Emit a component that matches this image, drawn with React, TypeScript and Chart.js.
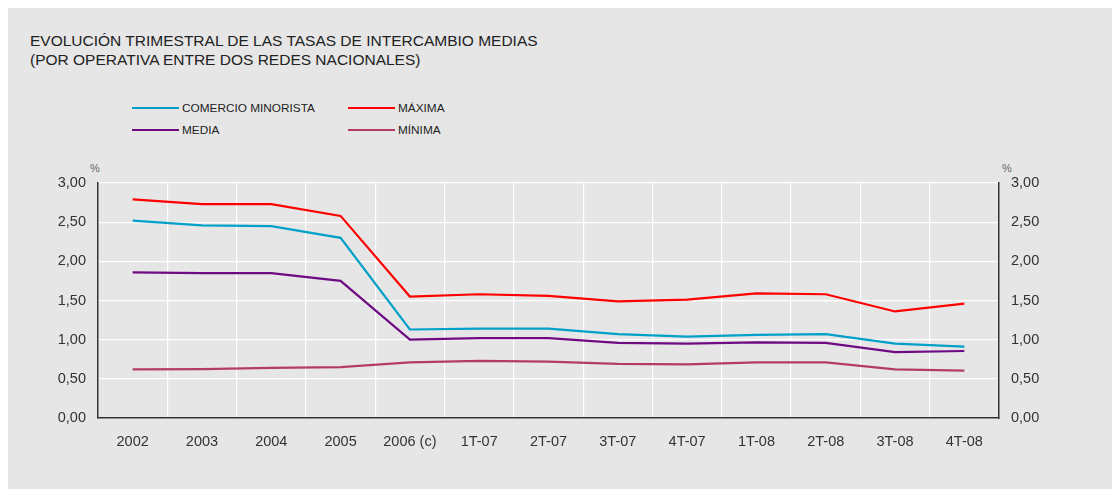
import React, { useEffect, useRef } from "react";
import { Chart, registerables } from "chart.js";

Chart.register(...registerables);

const categories = ["2002", "2003", "2004", "2005", "2006 (c)", "1T-07", "2T-07", "3T-07", "4T-07", "1T-08", "2T-08", "3T-08", "4T-08"];
const comercioMinorista = [2.52, 2.46, 2.45, 2.30, 1.13, 1.14, 1.14, 1.07, 1.04, 1.06, 1.07, 0.95, 0.91];
const maxima = [2.79, 2.73, 2.73, 2.58, 1.55, 1.58, 1.56, 1.49, 1.51, 1.59, 1.58, 1.36, 1.46];
const media = [1.86, 1.85, 1.85, 1.75, 1.00, 1.02, 1.02, 0.96, 0.95, 0.965, 0.96, 0.84, 0.855];
const minima = [0.62, 0.625, 0.64, 0.65, 0.71, 0.73, 0.72, 0.69, 0.685, 0.71, 0.71, 0.62, 0.605];

const seriesNames = ["COMERCIO MINORISTA", "MÁXIMA", "MEDIA", "MÍNIMA"];
const seriesColors = ["#00A0C8", "#FF0000", "#6E0A82", "#B43C64"];
const yTicks = [0, 0.5, 1, 1.5, 2, 2.5, 3];

const FONT = "'Liberation Sans', Arial, Helvetica, sans-serif";

export default function App() {
  const ref = useRef<HTMLCanvasElement | null>(null);

  useEffect(() => {
    if (!ref.current) return;
    const values = [comercioMinorista, maxima, media, minima];
    const fmt = (v: number) => v.toFixed(2).replace(".", ",");
    const chart = new Chart(ref.current, {
      type: "line",
      data: {
        labels: categories,
        datasets: values.map((d, i) => ({
          label: seriesNames[i],
          data: d,
          borderColor: seriesColors[i],
          backgroundColor: seriesColors[i],
          borderWidth: 2.2,
          pointRadius: 0,
          tension: 0,
          fill: false,
          yAxisID: "y",
        })),
      },
      options: {
        animation: false,
        responsive: false,
        maintainAspectRatio: false,
        layout: { padding: { top: 33, left: 0, right: 0, bottom: 0 } },
        plugins: {
          legend: { display: false },
          title: { display: false },
          tooltip: { enabled: false },
        },
        scales: {
          x: {
            type: "category",
            offset: true,
            grid: { display: true, offset: true, color: "#FFFFFF", lineWidth: 1.2, drawTicks: false },
            border: { display: true, color: "#333333", width: 1.5 },
            ticks: { color: "#333333", font: { family: FONT, size: 14.5 }, padding: 15, maxRotation: 0, autoSkip: false },
            afterFit: (s: any) => { s.height = 71; },
          },
          y: {
            position: "left",
            min: 0,
            max: 3,
            afterBuildTicks: (s: any) => { s.ticks = yTicks.map((v) => ({ value: v })); },
            grid: { display: true, color: "#FFFFFF", lineWidth: 1.2, drawTicks: false },
            border: { display: true, color: "#333333", width: 1.5 },
            ticks: { color: "#333333", font: { family: FONT, size: 14.5 }, padding: 12, callback: (v: any) => fmt(Number(v)) },
            afterFit: (s: any) => { s.width = 90; },
          },
          y2: {
            position: "right",
            min: 0,
            max: 3,
            afterBuildTicks: (s: any) => { s.ticks = yTicks.map((v) => ({ value: v })); },
            grid: { display: false, drawTicks: false },
            border: { display: true, color: "#333333", width: 1.5 },
            ticks: { color: "#333333", font: { family: FONT, size: 14.5 }, padding: 12, callback: (v: any) => fmt(Number(v)) },
            afterFit: (s: any) => { s.width = 113; },
          },
        },
      },
    } as any);
    return () => chart.destroy();
  }, []);

  const legendItem = (i: number, left: number, top: number) => (
    <div key={i} style={{ position: "absolute", left, top, height: 16, display: "flex", alignItems: "center" }}>
      <div style={{ width: 47, height: 2, background: seriesColors[i] }} />
      <span style={{ marginLeft: 3, fontSize: 11.8, color: "#222", fontFamily: FONT, whiteSpace: "nowrap" }}>{seriesNames[i]}</span>
    </div>
  );

  return (
    <div style={{ position: "relative", width: 1104, height: 481, background: "#E6E6E6", overflow: "hidden", fontFamily: FONT }}>
      <style>{`html,body{overflow:hidden;}`}</style>
      <div style={{ position: "absolute", left: 22, top: 23, fontSize: 15.5, lineHeight: "19px", color: "#222", whiteSpace: "nowrap" }}>
        <div>EVOLUCIÓN TRIMESTRAL DE LAS TASAS DE INTERCAMBIO MEDIAS</div>
        <div>(POR OPERATIVA ENTRE DOS REDES NACIONALES)</div>
      </div>
      {legendItem(0, 124, 92)}
      {legendItem(1, 340, 92)}
      {legendItem(2, 124, 114)}
      {legendItem(3, 340, 114)}
      <div style={{ position: "absolute", left: 82, top: 154, fontSize: 11, color: "#666" }}>%</div>
      <div style={{ position: "absolute", left: 994, top: 154, fontSize: 11, color: "#666" }}>%</div>
      <canvas ref={ref} width={1104} height={339} style={{ position: "absolute", left: 0, top: 142, width: 1104, height: 339 }} />
    </div>
  );
}
